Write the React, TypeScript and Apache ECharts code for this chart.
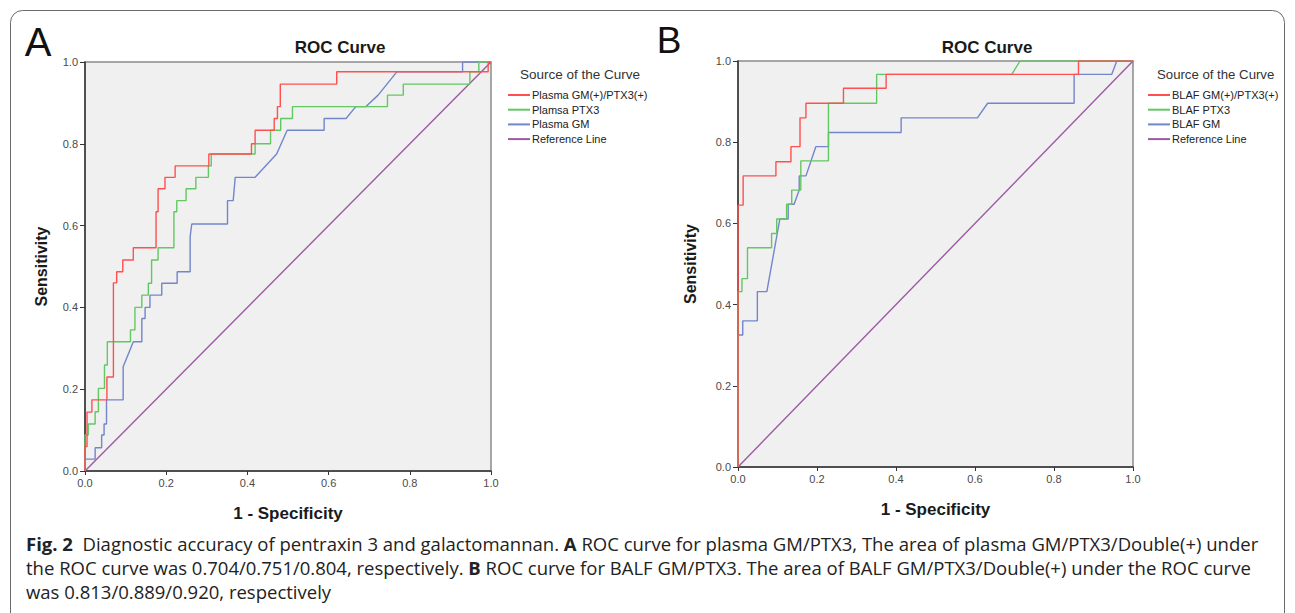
import React, { useEffect, useRef } from "react";
import * as echarts from "echarts";

// ---------- data (1 - specificity, sensitivity) ----------
const ticks = [0, 0.2, 0.4, 0.6, 0.8, 1.0];

const plasmaDouble: number[][] = [
  [0, 0], [0, 0.06], [0.005, 0.06], [0.005, 0.144], [0.017, 0.144], [0.017, 0.174], [0.054, 0.174],
  [0.054, 0.23], [0.07, 0.23], [0.07, 0.46], [0.078, 0.46], [0.078, 0.487], [0.093, 0.487],
  [0.093, 0.516], [0.119, 0.516], [0.119, 0.546], [0.175, 0.546], [0.175, 0.634], [0.18, 0.634],
  [0.18, 0.69], [0.197, 0.69], [0.197, 0.718], [0.222, 0.718], [0.222, 0.746], [0.305, 0.746],
  [0.305, 0.775], [0.41, 0.775], [0.41, 0.8], [0.419, 0.8], [0.419, 0.833], [0.466, 0.833],
  [0.466, 0.862], [0.474, 0.862], [0.474, 0.891], [0.481, 0.891], [0.481, 0.946], [0.62, 0.946],
  [0.62, 0.976], [0.993, 0.976], [0.993, 1], [1, 1],
];
const plasmaPTX3: number[][] = [
  [0, 0], [0, 0.088], [0.008, 0.088], [0.008, 0.115], [0.025, 0.115], [0.025, 0.145], [0.033, 0.145],
  [0.033, 0.202], [0.048, 0.202], [0.048, 0.259], [0.055, 0.259], [0.055, 0.316], [0.112, 0.316],
  [0.112, 0.345], [0.123, 0.345], [0.123, 0.4], [0.14, 0.4], [0.14, 0.43], [0.156, 0.43],
  [0.156, 0.459], [0.164, 0.459], [0.164, 0.516], [0.18, 0.516], [0.18, 0.546], [0.219, 0.546],
  [0.219, 0.634], [0.226, 0.634], [0.226, 0.661], [0.249, 0.661], [0.249, 0.69], [0.273, 0.69],
  [0.273, 0.718], [0.304, 0.718], [0.304, 0.746], [0.311, 0.746], [0.311, 0.775], [0.419, 0.775],
  [0.419, 0.8], [0.457, 0.8], [0.457, 0.833], [0.482, 0.833], [0.482, 0.862], [0.511, 0.862],
  [0.511, 0.891], [0.745, 0.891], [0.745, 0.919], [0.784, 0.919], [0.784, 0.946], [0.948, 0.946],
  [0.948, 0.976], [0.97, 0.976], [0.97, 1], [1, 1],
];
const plasmaGM: number[][] = [
  [0, 0], [0, 0.029], [0.025, 0.029], [0.025, 0.057], [0.041, 0.057], [0.041, 0.088], [0.047, 0.088],
  [0.047, 0.115], [0.053, 0.115], [0.053, 0.174], [0.094, 0.174], [0.094, 0.255], [0.119, 0.316],
  [0.14, 0.316], [0.14, 0.373], [0.148, 0.373], [0.148, 0.4], [0.16, 0.4], [0.16, 0.43],
  [0.189, 0.43], [0.189, 0.459], [0.227, 0.459], [0.227, 0.487], [0.259, 0.487], [0.259, 0.573],
  [0.263, 0.604], [0.351, 0.604], [0.351, 0.661], [0.365, 0.661], [0.37, 0.718], [0.419, 0.718],
  [0.472, 0.775], [0.498, 0.833], [0.589, 0.833], [0.589, 0.862], [0.643, 0.862], [0.667, 0.891],
  [0.692, 0.891], [0.722, 0.919], [0.768, 0.976], [0.93, 0.976], [0.93, 1], [1, 1],
];
const balfDouble: number[][] = [
  [0, 0], [0, 0.645], [0.013, 0.645], [0.013, 0.717], [0.096, 0.717], [0.096, 0.752], [0.134, 0.752],
  [0.134, 0.789], [0.157, 0.789], [0.157, 0.86], [0.172, 0.86], [0.172, 0.896], [0.267, 0.896],
  [0.267, 0.933], [0.375, 0.933], [0.375, 0.967], [0.862, 0.967], [0.862, 1], [1, 1],
];
const balfPTX3: number[][] = [
  [0, 0], [0, 0.432], [0.01, 0.432], [0.01, 0.464], [0.024, 0.464], [0.024, 0.54], [0.085, 0.54],
  [0.085, 0.575], [0.098, 0.575], [0.098, 0.611], [0.123, 0.611], [0.123, 0.647], [0.136, 0.647],
  [0.136, 0.682], [0.159, 0.682], [0.159, 0.754], [0.229, 0.754], [0.229, 0.896], [0.351, 0.896],
  [0.351, 0.967], [0.693, 0.967], [0.714, 1], [1, 1],
];
const balfGM: number[][] = [
  [0, 0], [0, 0.325], [0.012, 0.325], [0.012, 0.36], [0.049, 0.36], [0.049, 0.432], [0.073, 0.432],
  [0.106, 0.611], [0.127, 0.611], [0.127, 0.647], [0.142, 0.647], [0.155, 0.682], [0.155, 0.717],
  [0.172, 0.717], [0.197, 0.789], [0.229, 0.789], [0.229, 0.824], [0.413, 0.824], [0.413, 0.86],
  [0.606, 0.86], [0.632, 0.896], [0.851, 0.896], [0.851, 0.967], [0.946, 0.967], [0.959, 1], [1, 1],
];
const referenceLine: number[][] = [[0, 0], [1, 1]];

const namesA = ["Plasma GM(+)/PTX3(+)", "Plamsa PTX3", "Plasma GM", "Reference Line"];
const namesB = ["BLAF GM(+)/PTX3(+)", "BLAF PTX3", "BLAF GM", "Reference Line"];
const colors = ["#ff4f4f", "#62c862", "#7385cb", "#9c5aa4"];

const FONT = "'Liberation Sans', Arial, sans-serif";
const CAPFONT = "'Open Sans', sans-serif";

export default function App() {
  const ref = useRef<HTMLDivElement>(null);
  useEffect(() => {
    if (!ref.current) return;
    const chart = echarts.init(ref.current, undefined, { renderer: "svg" });

    const grids = [
      { left: 85, top: 62, width: 406, height: 409 },
      { left: 738, top: 61, width: 395, height: 406 },
    ];
    const xNameGap = [33.5, 33.5];
    const yNameGap = [35.5, 39.5];

    const xAxis = grids.map((g, i) => ({
      type: "value",
      gridIndex: i,
      min: 0,
      max: 1,
      interval: 0.2,
      name: "1 - Specificity",
      nameLocation: "middle",
      nameGap: xNameGap[i],
      nameTextStyle: { fontFamily: FONT, fontSize: 17, fontWeight: "bold", color: "#1a1a1a" },
      axisLine: { show: true, lineStyle: { color: "#333", width: 1.5 } },
      axisTick: { show: true, length: 4, lineStyle: { color: "#333" } },
      axisLabel: { fontFamily: FONT, fontSize: 11, color: "#4a4a4a", margin: 6, formatter: (v: number) => v.toFixed(1) },
      splitLine: { show: false },
    }));
    const yAxis = grids.map((g, i) => ({
      type: "value",
      gridIndex: i,
      min: 0,
      max: 1,
      interval: 0.2,
      name: "Sensitivity",
      nameLocation: "middle",
      nameGap: yNameGap[i],
      nameTextStyle: { fontFamily: FONT, fontSize: 16, fontWeight: "bold", color: "#1a1a1a" },
      axisLine: { show: true, lineStyle: { color: "#333", width: 1.5 } },
      axisTick: { show: true, length: 5, lineStyle: { color: "#333" } },
      axisLabel: { fontFamily: FONT, fontSize: 11, color: "#4a4a4a", margin: 7, formatter: (v: number) => v.toFixed(1) },
      splitLine: { show: false },
    }));

    const dataA = [plasmaDouble, plasmaPTX3, plasmaGM, referenceLine];
    const dataB = [balfDouble, balfPTX3, balfGM, referenceLine];
    const series: any[] = [];
    dataA.forEach((d, k) =>
      series.push({
        type: "line", name: namesA[k], xAxisIndex: 0, yAxisIndex: 0, data: d,
        symbol: "none", z: 10 - k, lineStyle: { color: colors[k], width: 1.4 }, itemStyle: { color: colors[k] },
      })
    );
    dataB.forEach((d, k) =>
      series.push({
        type: "line", name: namesB[k], xAxisIndex: 1, yAxisIndex: 1, data: d,
        symbol: "none", z: 10 - k, lineStyle: { color: colors[k], width: 1.4 }, itemStyle: { color: colors[k] },
      })
    );

    const legendBase = {
      orient: "vertical",
      icon: "rect",
      itemWidth: 22,
      itemHeight: 2,
      itemGap: 2.7,
      padding: 0,
      selectedMode: false,
      textStyle: { fontFamily: FONT, fontSize: 11, color: "#222", lineHeight: 12, padding: [0, 0, 0, -3] },
    };

    const caption =
      "{b|Fig. 2}  Diagnostic accuracy of pentraxin 3 and galactomannan. {b|A} ROC curve for plasma GM/PTX3, The area of plasma GM/PTX3/Double(+) under";
    const caption2 =
      "the ROC curve was 0.704/0.751/0.804, respectively. {b|B} ROC curve for BALF GM/PTX3. The area of BALF GM/PTX3/Double(+) under the ROC curve";
    const caption3 = "was 0.813/0.889/0.920, respectively";
    const capStyle = (t: string, y: number) => ({
      type: "text",
      x: 26,
      y,
      style: {
        text: t,
        fontFamily: CAPFONT,
        fontSize: 18.5,
        fill: "#222",
        verticalAlign: "middle",
        rich: { b: { fontFamily: CAPFONT, fontSize: 18.5, fontWeight: "bold", fill: "#222" } },
      },
    });

    chart.setOption({
      animation: false,
      backgroundColor: "#ffffff",
      grid: grids.map((g) => ({ ...g, show: true, backgroundColor: "#f0f0f0", borderColor: "#8a8a8a", borderWidth: 1.5 })),
      xAxis,
      yAxis,
      legend: [
        { ...legendBase, left: 508, top: 89, data: namesA },
        { ...legendBase, left: 1148, top: 89, data: namesB },
      ],
      series,
      graphic: [
        {
          type: "rect",
          shape: { x: 10.5, y: 10.5, width: 1274, height: 640, r: 12 },
          style: { fill: "none", stroke: "#6a6a6a", lineWidth: 1 },
          silent: true,
        },
        { type: "text", x: 38, y: 42, style: { text: "A", fontFamily: FONT, fontSize: 40, fill: "#111", align: "center", verticalAlign: "middle" } },
        { type: "text", x: 669, y: 40, style: { text: "B", fontFamily: FONT, fontSize: 37, fill: "#111", align: "center", verticalAlign: "middle" } },
        { type: "text", x: 340, y: 47, style: { text: "ROC Curve", fontFamily: FONT, fontSize: 17, fontWeight: "bold", fill: "#1a1a1a", align: "center", verticalAlign: "middle" } },
        { type: "text", x: 987, y: 47, style: { text: "ROC Curve", fontFamily: FONT, fontSize: 17, fontWeight: "bold", fill: "#1a1a1a", align: "center", verticalAlign: "middle" } },
        { type: "text", x: 520, y: 74, style: { text: "Source of the Curve", fontFamily: FONT, fontSize: 13.5, fill: "#333", align: "left", verticalAlign: "middle" } },
        { type: "text", x: 1157, y: 74, style: { text: "Source of the Curve", fontFamily: FONT, fontSize: 13.2, fill: "#333", align: "left", verticalAlign: "middle" } },
        capStyle(caption, 543),
        capStyle(caption2, 567),
        capStyle(caption3, 591),
      ],
    });
    return () => chart.dispose();
  }, []);

  return (
    <div
      ref={ref}
      style={{ position: "absolute", left: 0, top: 0, width: 1295, height: 613, background: "#fff" }}
    />
  );
}
